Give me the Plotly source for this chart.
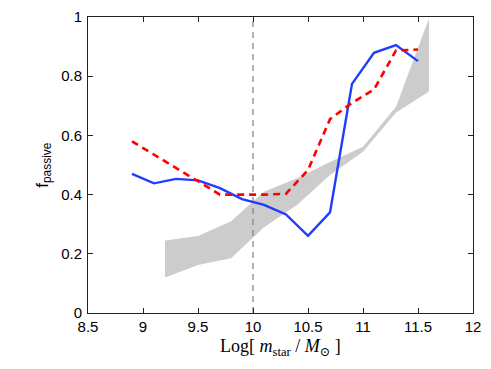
import plotly.graph_objects as go

# Data
blue_x = [8.9, 9.1, 9.3, 9.5, 9.7, 9.9, 10.1, 10.3, 10.5, 10.7, 10.9, 11.1, 11.3, 11.5]
blue_y = [0.47, 0.438, 0.453, 0.448, 0.422, 0.385, 0.365, 0.333, 0.261, 0.34, 0.774, 0.879, 0.905, 0.851]

red_x = [8.9, 9.1, 9.3, 9.5, 9.7, 9.9, 10.1, 10.3, 10.5, 10.7, 10.9, 11.1, 11.3, 11.5]
red_y = [0.58, 0.535, 0.49, 0.447, 0.40, 0.40, 0.40, 0.403, 0.483, 0.655, 0.71, 0.755, 0.887, 0.89]

band_x = [9.2, 9.5, 9.8, 10.1, 10.4, 10.7, 11.0, 11.3, 11.6]
band_upper = [0.245, 0.26, 0.31, 0.41, 0.455, 0.51, 0.562, 0.697, 0.995]
band_lower = [0.12, 0.162, 0.185, 0.29, 0.365, 0.466, 0.545, 0.677, 0.748]

vline_x = 10.0
x_ticks = [8.5, 9, 9.5, 10, 10.5, 11, 11.5, 12]
y_ticks = [0, 0.2, 0.4, 0.6, 0.8, 1]

fig = go.Figure()

fig.add_trace(go.Scatter(
    x=band_x + band_x[::-1],
    y=band_upper + band_lower[::-1],
    fill="toself", fillcolor="#cccccc",
    line=dict(width=0, color="#cccccc"),
    mode="lines", hoverinfo="skip", showlegend=False))

fig.add_trace(go.Scatter(
    x=[vline_x, vline_x], y=[0, 1], mode="lines",
    line=dict(color="#808080", width=1.2, dash="6px,5px"),
    showlegend=False))

fig.add_trace(go.Scatter(
    x=blue_x, y=blue_y, mode="lines",
    line=dict(color="#1f3cff", width=2.4),
    showlegend=False))

fig.add_trace(go.Scatter(
    x=red_x, y=red_y, mode="lines",
    line=dict(color="#ff0000", width=2.6, dash="7px,5px"),
    showlegend=False))

axis_common = dict(
    showgrid=False, zeroline=False, showline=True, linecolor="#222222", linewidth=1,
    mirror="ticks", ticks="inside", ticklen=5, tickcolor="#222222", automargin=False,
    tickfont=dict(family="Liberation Sans, Arial, sans-serif", size=15, color="black"),
)

fig.update_xaxes(range=[8.5, 12], tickvals=x_ticks, ticklabelstandoff=0, **axis_common)
fig.update_yaxes(range=[0, 1], tickvals=y_ticks, ticklabelstandoff=2, **axis_common)

fig.add_annotation(
    text="Log[ <i>m</i><sub>star</sub> / <i>M</i><sub>⊙</sub> ]",
    xref="paper", yref="paper", x=0.5, y=-0.07, xanchor="center", yanchor="top",
    showarrow=False,
    font=dict(family="Liberation Serif, DejaVu Serif, serif", size=18, color="black"))

fig.add_annotation(
    text="f<sub>passive</sub>",
    xref="paper", yref="paper", x=-0.115, y=0.5, xanchor="center", yanchor="middle",
    textangle=-90, showarrow=False,
    font=dict(family="Liberation Sans, Arial, sans-serif", size=17, color="black"))

fig.update_layout(
    width=483, height=361,
    margin=dict(l=80, r=18, t=9, b=56),
    paper_bgcolor="white", plot_bgcolor="white",
    showlegend=False,
)

fig.write_html("out.html")
